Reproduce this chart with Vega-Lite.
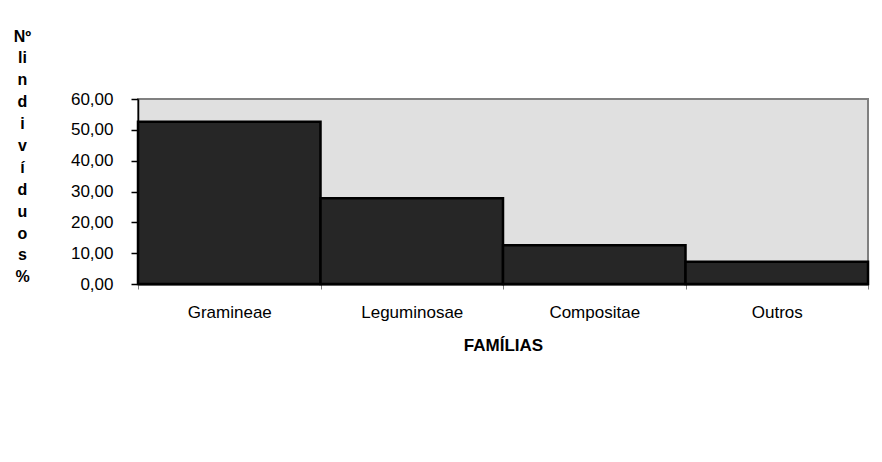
{
  "$schema": "https://vega.github.io/schema/vega-lite/v6.json",
  "autosize": "none",
  "width": 730,
  "height": 185,
  "padding": {"left": 138, "top": 99, "right": 14, "bottom": 178},
  "background": "white",
  "data": {
    "values": [
      {"familia": "Gramineae", "pct": 52.6},
      {"familia": "Leguminosae", "pct": 27.8},
      {"familia": "Compositae", "pct": 12.6},
      {"familia": "Outros", "pct": 7.2}
    ]
  },
  "mark": {"type": "bar", "fill": "#262626", "stroke": "#000000", "strokeWidth": 2.5},
  "encoding": {
    "x": {
      "field": "familia",
      "type": "nominal",
      "sort": null,
      "scale": {"paddingInner": 0, "paddingOuter": 0},
      "axis": {
        "title": "FAMÍLIAS",
        "labelAngle": 0,
        "tickBand": "extent",
        "tickSize": 5,
        "tickColor": "#808080",
        "domainColor": "#000000",
        "domainWidth": 2,
        "labelPadding": 15,
        "titlePadding": 17,
        "labelFont": "Liberation Sans",
        "labelFontSize": 17,
        "labelColor": "#000000",
        "titleFont": "Liberation Sans",
        "titleFontSize": 17,
        "titleFontWeight": "bold",
        "titleColor": "#000000"
      }
    },
    "y": {
      "field": "pct",
      "type": "quantitative",
      "scale": {"domain": [0, 60], "nice": false},
      "axis": {
        "values": [0, 10, 20, 30, 40, 50, 60],
        "labelExpr": "replace(format(datum.value, '.2f'), '.', ',')",
        "grid": false,
        "tickSize": 7,
        "tickColor": "#000000",
        "tickWidth": 1.5,
        "domainColor": "#000000",
        "domainWidth": 1.5,
        "labelPadding": 18,
        "labelFont": "Liberation Sans",
        "labelFontSize": 17,
        "labelColor": "#000000",
        "title": ["Nº", "li", "n", "d", "i", "v", "í", "d", "u", "o", "s", "%"],
        "titleAngle": 0,
        "titleAlign": "center",
        "titleBaseline": "top",
        "titleX": -116,
        "titleY": -71,
        "titleFont": "Liberation Sans",
        "titleFontSize": 16,
        "titleFontWeight": "bold",
        "titleLineHeight": 21.9,
        "titleColor": "#000000"
      }
    }
  },
  "config": {
    "view": {"fill": "#e0e0e0", "stroke": "#808080", "strokeWidth": 2}
  }
}
